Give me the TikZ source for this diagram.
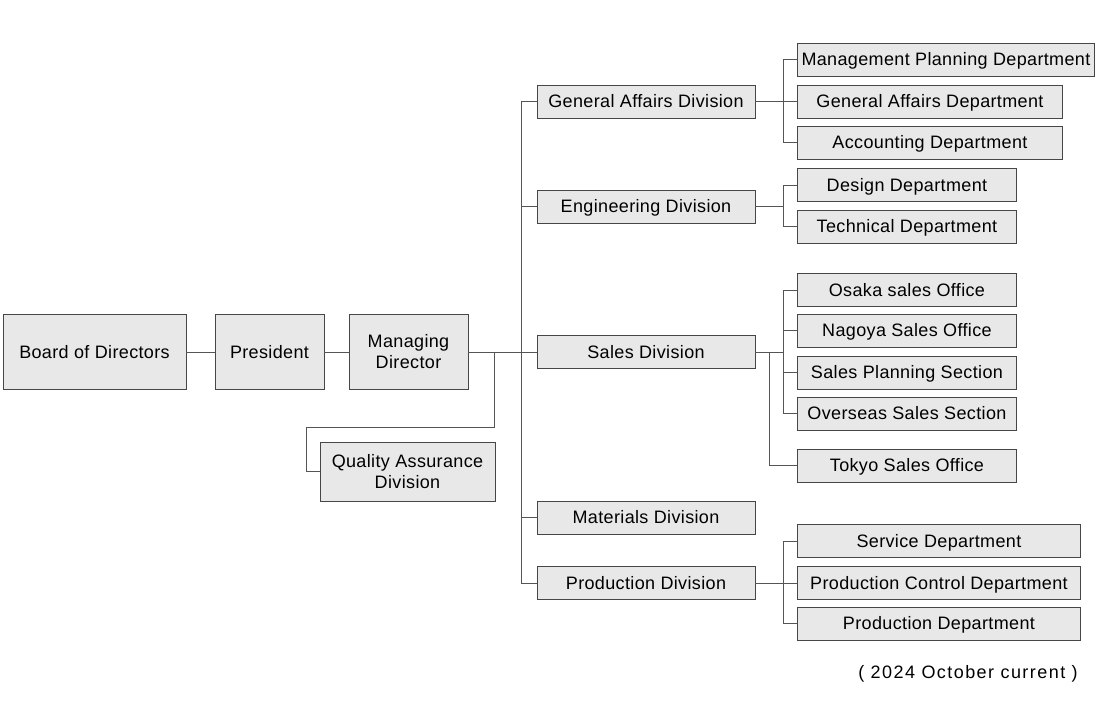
\documentclass[tikz,border=0pt]{standalone}
\usepackage{fontspec}
\setmainfont{Liberation Sans}[LetterSpace=2]
\usepackage{tikz}
\usetikzlibrary{positioning}
\definecolor{Cborda}{RGB}{70,70,70}
\definecolor{Clinha}{RGB}{85,85,85}
\definecolor{Cfundo}{RGB}{232,232,232}

\tikzset{
  caixa/.style={draw=Cborda, fill=Cfundo, line width=0.9pt, inner sep=0pt,
        minimum height=33pt, text height=13pt, text depth=0.5pt,
        font=\fontsize{18}{21}\selectfont, align=center},
  grande/.style={caixa, minimum height=75pt},
  duaslinhas/.style={text height={}, text depth={}},
  divisao/.style={caixa, minimum width=218pt},
  depto/.style={caixa, anchor=west},
  liga/.style={draw=Clinha, line width=0.9pt}
}

\begin{document}
\begin{tikzpicture}[x=1pt, y=-1pt]
  \useasboundingbox (0,0) rectangle (1104,726);

  % topo
  \node[grande, minimum width=183pt] (board) at (94.5,352) {Board of Directors};
  \node[grande, minimum width=109pt] (pres)  at (269.5,352) {President};
  \node[grande, duaslinhas, minimum width=119pt] (md) at (408.5,352) {Managing\\Director};
  \node[caixa, duaslinhas, minimum width=175pt, minimum height=59pt]
    (qa) at (407.5,471.5) {Quality Assurance\\Division};

  % divisoes
  \node[divisao] (ga)    at (646,101.5) {General Affairs Division};
  \node[divisao] (eng)   at (646,206.5) {Engineering Division};
  \node[divisao] (sales) at (646,352)   {Sales Division};
  \node[divisao] (mat)   at (646,517.5) {Materials Division};
  \node[divisao] (prod)  at (646,583)   {Production Division};

  % departamentos
  \node[depto, minimum width=297pt] (mp)  at (797,59.5)  {Management Planning Department};
  \node[depto, minimum width=265pt] (gad) at (797,101.5) {General Affairs Department};
  \node[depto, minimum width=265pt] (acc) at (797,142.5) {Accounting Department};
  \node[depto, minimum width=219pt] (des)  at (797,185)   {Design Department};
  \node[depto, minimum width=219pt] (tech) at (797,226.5) {Technical Department};
  \node[depto, minimum width=219pt] (osaka)    at (797,290)   {Osaka sales Office};
  \node[depto, minimum width=219pt] (nagoya)   at (797,330.5) {Nagoya Sales Office};
  \node[depto, minimum width=219pt] (splan)    at (797,372.5) {Sales Planning Section};
  \node[depto, minimum width=219pt] (overseas) at (797,413.5) {Overseas Sales Section};
  \node[depto, minimum width=219pt] (tokyo)    at (797,465.5) {Tokyo Sales Office};
  \node[depto, minimum width=283pt] (serv) at (797,541)   {Service Department};
  \node[depto, minimum width=283pt] (pcd)  at (797,583)   {Production Control Department};
  \node[depto, minimum width=283pt] (pd)   at (797,623.5) {Production Department};

  \node[font=\fontsize{18}{21}\selectfont\addfontfeature{LetterSpace=8}]
    (nota) at (968,674) {( 2024 October current )};

  % ligacoes
  \draw[liga] (board) -- (pres);
  \draw[liga] (pres) -- (md);
  \draw[liga] (md.east) -- (sales.west);
  \draw[liga] ([xshift=26pt]md.east) -- ++(0,75) -| ([xshift=-13pt]qa.west) -- (qa.west);
  \draw[liga] (ga.west) -- ++(-15,0) coordinate (tronco) |- (prod.west);
  \foreach \d in {eng,mat}
    \draw[liga] (\d.west) -- (\d.west -| tronco);

  \draw[liga] (ga.east) -- ++(28,0) coordinate (gaj);
  \foreach \d in {mp,gad,acc}
    \draw[liga] (gaj) |- (\d.west);
  \draw[liga] (eng.east) -- ++(28,0) coordinate (engj);
  \foreach \d in {des,tech}
    \draw[liga] (engj) |- (\d.west);
  \draw[liga] (sales.east) -- ++(28,0) coordinate (salj);
  \foreach \d in {osaka,nagoya,splan,overseas}
    \draw[liga] (salj) |- (\d.west);
  \draw[liga] ([xshift=14pt]sales.east) |- (tokyo.west);
  \draw[liga] (prod.east) -- ++(28,0) coordinate (prodj);
  \foreach \d in {serv,pcd,pd}
    \draw[liga] (prodj) |- (\d.west);
\end{tikzpicture}
\end{document}
